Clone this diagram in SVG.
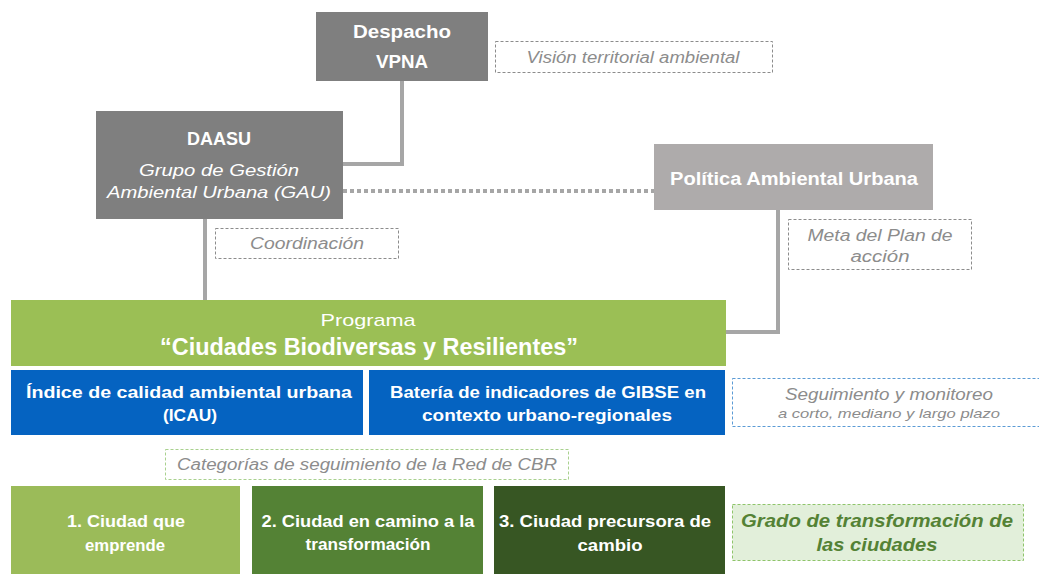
<svg xmlns="http://www.w3.org/2000/svg" width="1039" height="574" viewBox="0 0 1039 574">
<style>
.t{font-family:"Liberation Sans",Arial,sans-serif;}
.wb{fill:#fff;font-weight:bold;}
.wr{fill:#fff;}
.gi{fill:#8c8c8c;font-style:italic;}
.dash{fill:none;stroke:#8c8c8c;stroke-width:1;stroke-dasharray:3 2;}
.conn{fill:none;stroke:#a6a6a6;stroke-width:4;}
</style>
<rect width="1039" height="574" fill="#fff"/>
<g id="connectors">
<polyline class="conn" points="402,81 402,164 343,164"/>
<line x1="343" y1="191" x2="654" y2="191" stroke="#a6a6a6" stroke-width="4" stroke-dasharray="4 3"/>
<line class="conn" x1="205" y1="219" x2="205" y2="300"/>
<polyline class="conn" points="778,210 778,332 726,332"/>
</g>
<g id="despacho">
<rect x="316" y="12" width="172" height="69" fill="#7f7f7f"/>
<text class="t wb" x="402" y="38" font-size="18" text-anchor="middle" textLength="98" lengthAdjust="spacingAndGlyphs">Despacho</text>
<text class="t wb" x="402" y="68" font-size="18" text-anchor="middle" textLength="52" lengthAdjust="spacingAndGlyphs">VPNA</text>
</g>
<g id="vision">
<rect class="dash" x="495.5" y="41.5" width="277" height="31"/>
<text class="t gi" x="633" y="63" font-size="16" text-anchor="middle" textLength="213" lengthAdjust="spacingAndGlyphs">Visión territorial ambiental</text>
</g>
<g id="daasu">
<rect x="96" y="111" width="247" height="108" fill="#7f7f7f"/>
<text class="t wb" x="219" y="145" font-size="18" text-anchor="middle" textLength="64" lengthAdjust="spacingAndGlyphs">DAASU</text>
<text class="t wr" font-style="italic" x="219" y="176" font-size="17" text-anchor="middle" textLength="160" lengthAdjust="spacingAndGlyphs">Grupo de Gestión</text>
<text class="t wr" font-style="italic" x="219" y="198" font-size="17" text-anchor="middle" textLength="224" lengthAdjust="spacingAndGlyphs">Ambiental Urbana (GAU)</text>
</g>
<g id="politica">
<rect x="654" y="144" width="279" height="66" fill="#aeabab"/>
<text class="t wb" x="794" y="185" font-size="18" text-anchor="middle" textLength="248" lengthAdjust="spacingAndGlyphs">Política Ambiental Urbana</text>
</g>
<g id="coordinacion">
<rect class="dash" x="215.5" y="228.5" width="183" height="30"/>
<text class="t gi" x="307" y="249" font-size="16" text-anchor="middle" textLength="114" lengthAdjust="spacingAndGlyphs">Coordinación</text>
</g>
<g id="meta">
<rect class="dash" x="788.5" y="219.5" width="183" height="50"/>
<text class="t gi" x="880" y="241" font-size="16" text-anchor="middle" textLength="145" lengthAdjust="spacingAndGlyphs">Meta del Plan de</text>
<text class="t gi" x="880" y="262" font-size="16" text-anchor="middle" textLength="59" lengthAdjust="spacingAndGlyphs">acción</text>
</g>
<g id="programa">
<rect x="11" y="300" width="715" height="66" fill="#9bbf55"/>
<text class="t wr" x="368" y="326" font-size="17" text-anchor="middle" textLength="95" lengthAdjust="spacingAndGlyphs">Programa</text>
<text class="t wb" x="369" y="355" font-size="23" text-anchor="middle" textLength="418" lengthAdjust="spacingAndGlyphs">“Ciudades Biodiversas y Resilientes”</text>
</g>
<g id="icau">
<rect x="11" y="370" width="352" height="65" fill="#0563c1"/>
<text class="t wb" x="189" y="398" font-size="17" text-anchor="middle" textLength="326" lengthAdjust="spacingAndGlyphs">Índice de calidad ambiental urbana</text>
<text class="t wb" x="190" y="421" font-size="17" text-anchor="middle" textLength="54" lengthAdjust="spacingAndGlyphs">(ICAU)</text>
</g>
<g id="bateria">
<rect x="369" y="370" width="356" height="65" fill="#0563c1"/>
<text class="t wb" x="548" y="398" font-size="17" text-anchor="middle" textLength="316" lengthAdjust="spacingAndGlyphs">Batería de indicadores de GIBSE en</text>
<text class="t wb" x="547" y="421" font-size="17" text-anchor="middle" textLength="250" lengthAdjust="spacingAndGlyphs">contexto urbano-regionales</text>
</g>
<g id="seguimiento">
<rect x="732.5" y="378.5" width="310" height="48" fill="none" stroke="#5b9bd5" stroke-width="1" stroke-dasharray="3 2"/>
<text class="t gi" x="889" y="400" font-size="16" text-anchor="middle" textLength="208" lengthAdjust="spacingAndGlyphs">Seguimiento y monitoreo</text>
<text class="t gi" x="889" y="418" font-size="13" text-anchor="middle" textLength="222" lengthAdjust="spacingAndGlyphs">a corto, mediano y largo plazo</text>
</g>
<g id="categorias">
<rect x="165.5" y="449.5" width="403" height="30" fill="none" stroke="#a9d18e" stroke-width="1" stroke-dasharray="3 2"/>
<text class="t gi" x="367" y="470" font-size="16" text-anchor="middle" textLength="380" lengthAdjust="spacingAndGlyphs">Categorías de seguimiento de la Red de CBR</text>
</g>
<g id="cat1">
<rect x="11" y="486" width="229" height="90" fill="#9bbb59"/>
<text class="t wb" x="126" y="527" font-size="16" text-anchor="middle" textLength="118" lengthAdjust="spacingAndGlyphs">1. Ciudad que</text>
<text class="t wb" x="125" y="551" font-size="16" text-anchor="middle" textLength="80" lengthAdjust="spacingAndGlyphs">emprende</text>
</g>
<g id="cat2">
<rect x="252" y="486" width="231" height="90" fill="#548235"/>
<text class="t wb" x="368" y="527" font-size="16" text-anchor="middle" textLength="213" lengthAdjust="spacingAndGlyphs">2. Ciudad en camino a la</text>
<text class="t wb" x="368" y="550" font-size="16" text-anchor="middle" textLength="125" lengthAdjust="spacingAndGlyphs">transformación</text>
</g>
<g id="cat3">
<rect x="494" y="486" width="231" height="90" fill="#375623"/>
<text class="t wb" x="605" y="527" font-size="16" text-anchor="middle" textLength="212" lengthAdjust="spacingAndGlyphs">3. Ciudad precursora de</text>
<text class="t wb" x="610" y="551" font-size="16" text-anchor="middle" textLength="65" lengthAdjust="spacingAndGlyphs">cambio</text>
</g>
<g id="grado">
<rect x="732.5" y="504.5" width="291" height="56" fill="#e2efda" stroke="#8fc46a" stroke-width="1" stroke-dasharray="3 2"/>
<text class="t" fill="#548235" font-weight="bold" font-style="italic" x="877" y="527" font-size="18" text-anchor="middle" textLength="272" lengthAdjust="spacingAndGlyphs">Grado de transformación de</text>
<text class="t" fill="#548235" font-weight="bold" font-style="italic" x="877" y="551" font-size="18" text-anchor="middle" textLength="121" lengthAdjust="spacingAndGlyphs">las ciudades</text>
</g>
</svg>
